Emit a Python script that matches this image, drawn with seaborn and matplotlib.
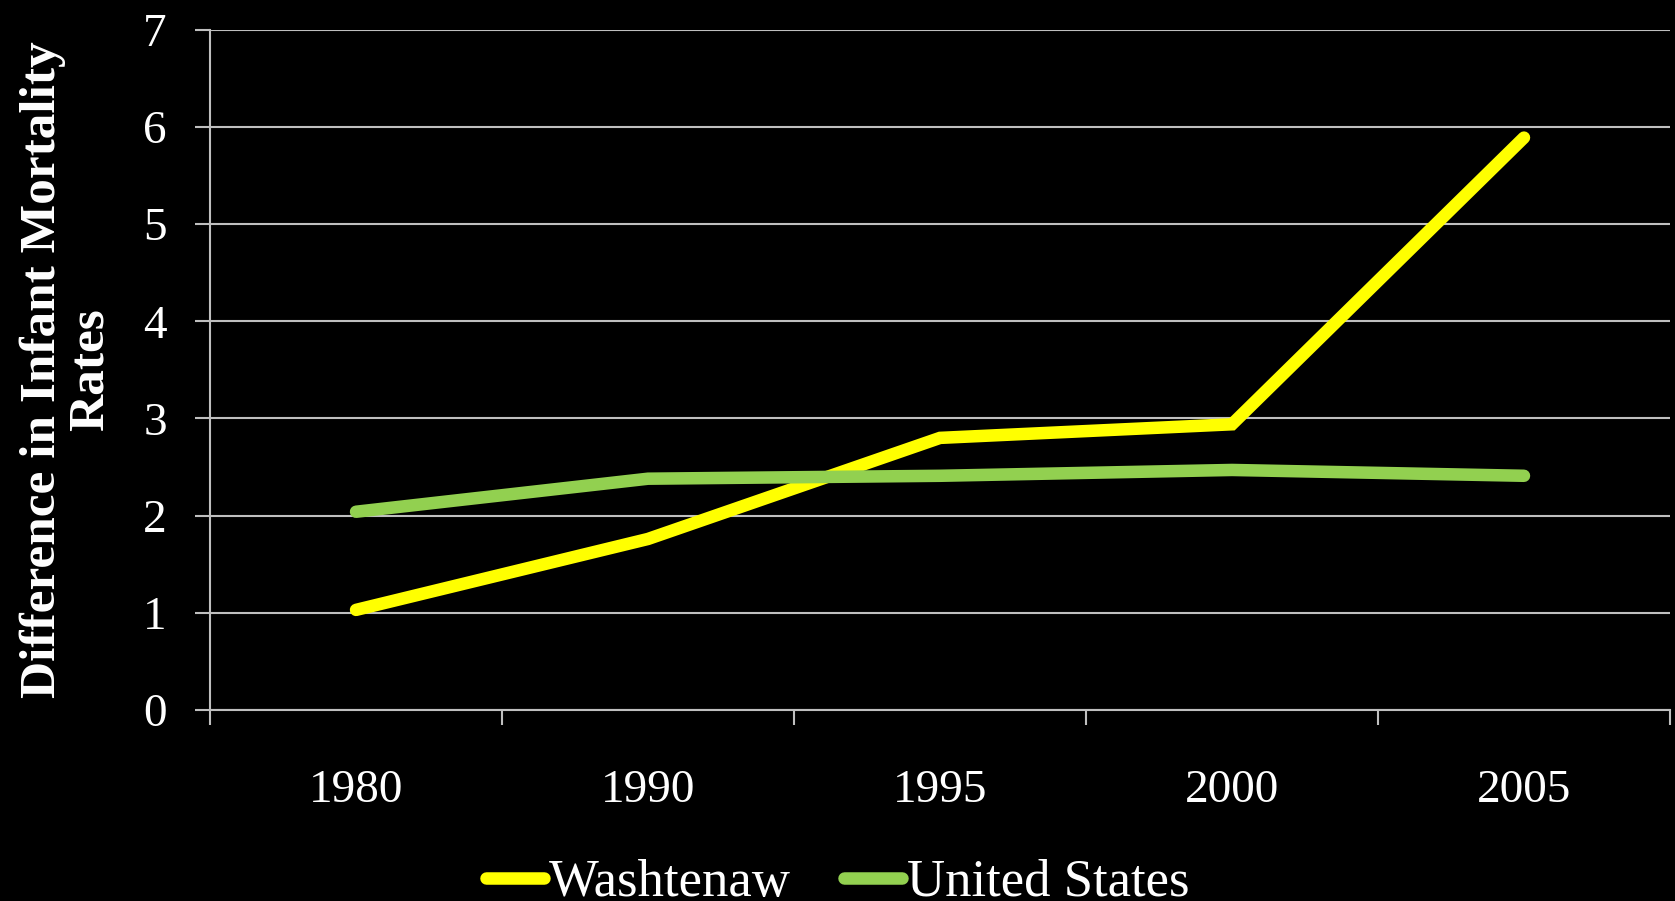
import pandas as pd
import matplotlib.pyplot as plt
import seaborn as sns
from matplotlib.ticker import FixedLocator

#_____1. DATA_____
years = ['1980', '1990', '1995', '2000', '2005']
washtenaw = [1.03, 1.76, 2.80, 2.94, 5.89]
united_states = [2.04, 2.38, 2.41, 2.47, 2.41]
series_names = ['Washtenaw', 'United States']
colors = {'Washtenaw': '#FFFF00', 'United States': '#92D050'}

df = pd.DataFrame({
    'year': years * 2,
    'value': washtenaw + united_states,
    'series': [series_names[0]] * len(years) + [series_names[1]] * len(years),
})

#_____2. STYLE_____
sns.set_style('dark')
plt.rcParams['font.family'] = ['Liberation Serif', 'DejaVu Serif']
grid_col = '#BFBFBF'

fig = plt.figure(figsize=(16.75, 9.01), dpi=100, facecolor='black')
ax = fig.add_axes([0.1254, 0.212, 0.8716, 0.755])
ax.set_facecolor('black')

#_____3. PLOT_____
sns.lineplot(data=df, x='year', y='value', hue='series', palette=colors,
             linewidth=9, ax=ax, legend=False, sort=False,
             solid_capstyle='round', solid_joinstyle='miter')

ax.set_xlim(-0.5, 4.5)
ax.set_ylim(0, 7)
ax.set_yticks(range(0, 8))
ax.yaxis.grid(True, color=grid_col, linewidth=1.5)
ax.xaxis.grid(False)
ax.set_axisbelow(True)

# category boundaries get tick marks, centers get labels
ax.xaxis.set_major_locator(FixedLocator([i - 0.5 for i in range(len(years) + 1)]))
ax.xaxis.set_minor_locator(FixedLocator(list(range(len(years)))))
ax.set_xticklabels([])
ax.set_xticklabels(years, minor=True)
ax.tick_params(axis='x', which='major', length=11, width=1.5, color=grid_col, bottom=True)
ax.tick_params(axis='x', which='minor', length=0, pad=43, labelsize=34, labelcolor='white')
ax.tick_params(axis='y', length=11, width=1.5, color=grid_col, left=True,
               pad=20, labelsize=34, labelcolor='white')

for side in ['top', 'right']:
    ax.spines[side].set_visible(False)
for side in ['left', 'bottom']:
    ax.spines[side].set_visible(True)
    ax.spines[side].set_color(grid_col)
    ax.spines[side].set_linewidth(1.5)

ax.set_xlabel('')
ax.set_ylabel('Difference in Infant Mortality\nRates', color='white',
              fontsize=37, fontweight='bold', linespacing=1.05)
ax.yaxis.set_label_coords(-0.066, 0.5)

#_____4. LEGEND_____
handles = [plt.Line2D([], [], color=colors[s], linewidth=9, solid_capstyle='round')
           for s in series_names]
leg = fig.legend(handles, series_names, loc='center', bbox_to_anchor=(0.5, 0.02),
                 ncol=2, frameon=False, fontsize=38, handlelength=1.1,
                 handletextpad=0.1, columnspacing=1.0, labelcolor='white')

fig.savefig('out.png', dpi=100, facecolor='black')
plt.close()
